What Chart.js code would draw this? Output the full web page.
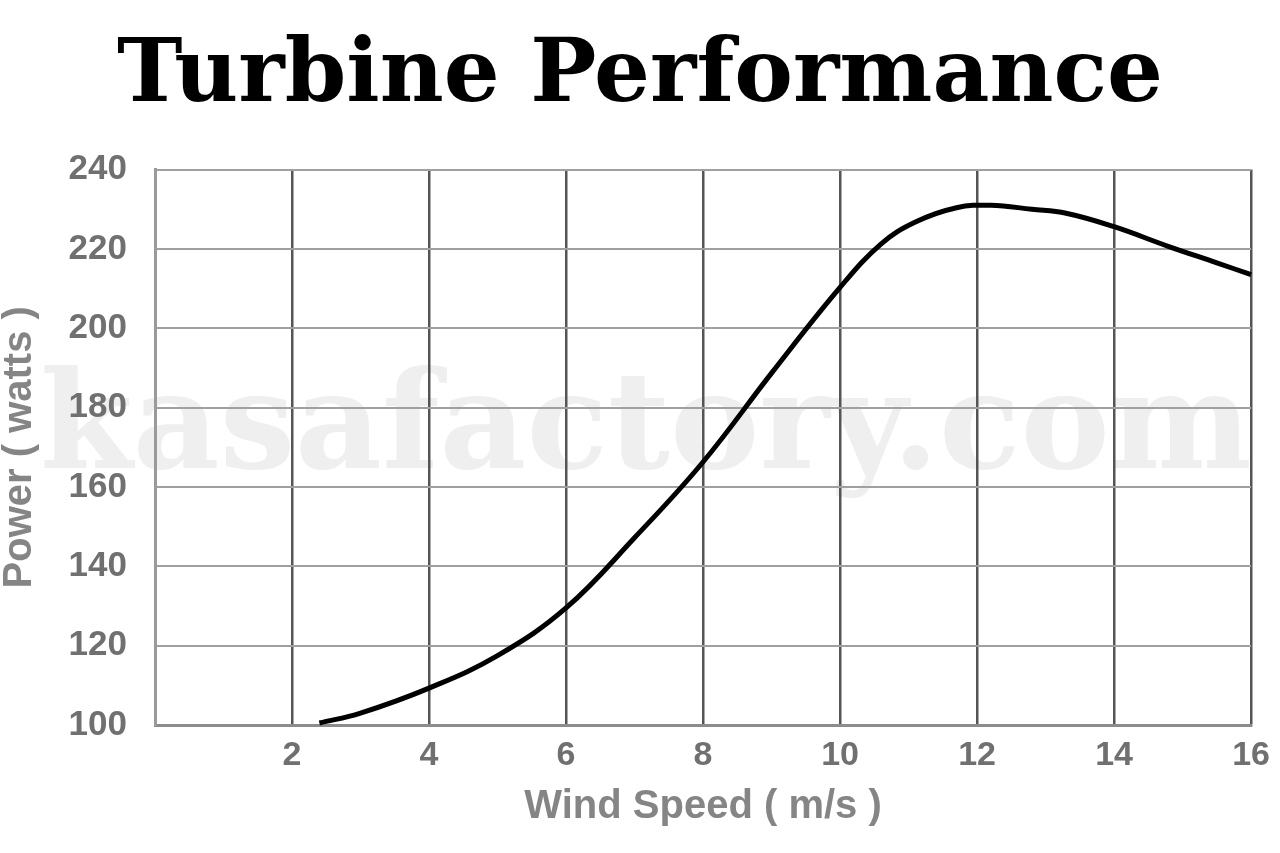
<!DOCTYPE html>
<html>
<head>
<meta charset="utf-8">
<script src="https://cdn.jsdelivr.net/npm/chart.js@4"></script>
<style>
  html, body { margin: 0; padding: 0; background: #ffffff; }
  #wrap { width: 1280px; height: 853px; position: relative; }
</style>
</head>
<body>
<div id="wrap"><canvas id="c"></canvas></div>
<script>
// ---- data ----
const windSpeed = [2.4, 3, 4, 5, 6, 7, 8, 9, 10, 10.6, 11.1, 11.7, 12.2, 12.8, 13.3, 14, 14.8, 15.5, 16];
const powerWatts = [100.5, 103.0, 109.3, 117.5, 129.5, 147.2, 166.3, 188.7, 210.3, 221.3, 226.8, 230.4, 231.0, 230.0, 229.0, 225.6, 220.6, 216.5, 213.5];
const xTicks = [2, 4, 6, 8, 10, 12, 14, 16];
const yTicks = [100, 120, 140, 160, 180, 200, 220, 240];
const chartTitle = 'Turbine Performance';
const xTitle = 'Wind Speed ( m/s )';
const yTitle = 'Power ( watts )';
const watermark = 'kasafactory.com';

const points = windSpeed.map((x, i) => ({ x: x, y: powerWatts[i] }));

const bgAndWatermark = {
  id: 'bgAndWatermark',
  beforeDraw(chart) {
    const ctx = chart.ctx;
    ctx.save();
    ctx.fillStyle = '#ffffff';
    ctx.fillRect(0, 0, chart.width, chart.height);
    ctx.font = 'bold 134px "DejaVu Serif"';
    ctx.fillStyle = '#efefef';
    ctx.textAlign = 'left';
    ctx.textBaseline = 'alphabetic';
    ctx.fillText(watermark, 40, 468, 1220);
    ctx.restore();
  }
};

new Chart(document.getElementById('c'), {
  type: 'line',
  data: {
    datasets: [{
      data: points,
      borderColor: '#000000',
      borderWidth: 5,
      pointRadius: 0,
      fill: false,
      tension: 0.4,
      clip: false
    }]
  },
  options: {
    responsive: true,
    maintainAspectRatio: false,
    devicePixelRatio: 1,
    animation: false,
    events: [],
    layout: { padding: { top: 7, right: 28, bottom: 0, left: 28 } },
    plugins: {
      legend: { display: false },
      tooltip: { enabled: false },
      title: {
        display: true,
        text: chartTitle,
        color: '#000000',
        font: { family: '"DejaVu Serif"', weight: 'bold', size: 88 },
        padding: { top: 18, bottom: 39 }
      }
    },
    scales: {
      x: {
        type: 'linear',
        min: 0,
        max: 16,
        afterFit(scale) { scale.height = 128; },
        afterBuildTicks(scale) { scale.ticks = [0].concat(xTicks).map(v => ({ value: v })); },
        ticks: {
          color: '#707070',
          font: { family: '"Liberation Sans"', weight: 'bold', size: 34 },
          padding: 10,
          maxRotation: 0,
          autoSkip: false,
          callback: (v) => (v === 0 ? '' : String(v))
        },
        grid: {
          drawTicks: false,
          color: (ctx) => (ctx.tick && ctx.tick.value === 0 ? '#9a9a9a' : '#555555'),
          lineWidth: 2.5
        },
        border: { display: true, color: '#8c8c8c', width: 3 },
        title: {
          display: true,
          text: xTitle,
          color: '#858585',
          font: { family: '"Liberation Sans"', weight: 'bold', size: 40, lineHeight: 1.2 },
          padding: { top: 0, bottom: 22 }
        }
      },
      y: {
        type: 'linear',
        min: 100,
        max: 240,
        afterFit(scale) { scale.width = 127; },
        afterBuildTicks(scale) { scale.ticks = yTicks.map(v => ({ value: v })); },
        ticks: {
          color: '#707070',
          font: { family: '"Liberation Sans"', weight: 'bold', size: 35 },
          padding: 28
        },
        grid: {
          drawTicks: false,
          color: '#a0a0a0',
          lineWidth: 2
        },
        border: { display: true, color: '#9a9a9a', width: 3 },
        title: {
          display: true,
          text: yTitle,
          color: '#858585',
          font: { family: '"Liberation Sans"', weight: 'bold', size: 40, lineHeight: 1.0 },
          padding: { top: -28, bottom: 0 }
        }
      }
    }
  },
  plugins: [bgAndWatermark]
});
</script>
</body>
</html>
